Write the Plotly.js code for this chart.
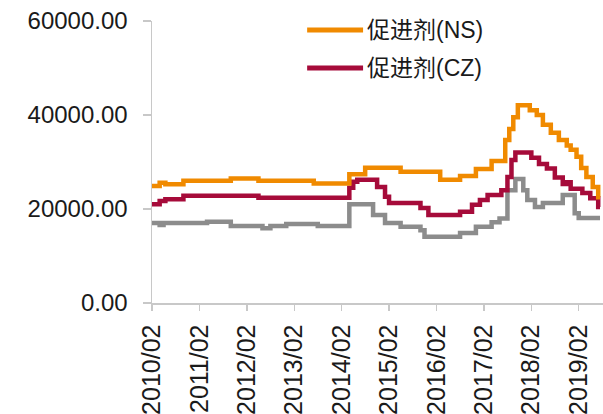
<!DOCTYPE html>
<html>
<head>
<meta charset="utf-8">
<script src="https://cdn.plot.ly/plotly-3.0.1.min.js"></script>
<style>html,body{margin:0;padding:0;background:#fff;}#chart{width:603px;height:414px;}</style>
</head>
<body>
<div id="chart"></div>
<script>
const seriesNames = ['促进剂(NS)', '促进剂(CZ)', ''];

const nsDates = ['2010-02-01','2010-04-01','2010-05-15','2010-10-01','2011-10-01','2012-05-01','2013-07-01','2014-04-01','2014-08-01','2015-05-01','2016-03-01','2016-08-01','2016-12-01','2017-04-01','2017-07-15','2017-08-15','2017-09-15','2017-10-20','2018-01-20','2018-03-15','2018-05-01','2018-07-01','2018-09-01','2018-11-01','2018-12-01','2019-01-15','2019-02-20','2019-04-01','2019-05-20','2019-07-01','2019-07-15'];
const nsValues = [24900,25600,25250,26000,26500,26000,25400,27400,28800,27900,26200,27000,28500,30200,34700,37000,39500,42100,41000,40000,37900,36200,34700,33500,32600,31100,28700,26800,24700,22500,22500];

const czDates = ['2010-02-01','2010-04-01','2010-05-15','2010-10-01','2012-05-01','2014-04-01','2014-05-01','2014-06-01','2014-11-01','2015-01-01','2015-02-01','2015-10-01','2015-12-01','2016-08-01','2016-11-01','2017-01-01','2017-03-01','2017-06-15','2017-08-01','2017-09-01','2017-10-01','2018-02-01','2018-04-01','2018-06-01','2018-08-01','2018-10-01','2018-11-01','2018-12-01','2019-03-01','2019-05-01','2019-07-01','2019-07-15'];
const czValues = [21000,21700,22100,22800,22400,24500,25800,26200,24700,22600,21300,20200,18700,19400,20900,21900,23000,24000,26800,30400,32000,30900,29600,28600,26700,25300,25700,24300,23400,22300,20400,20400];

const grayDates = ['2010-02-01','2010-04-01','2010-05-01','2011-04-01','2011-10-01','2012-06-01','2012-08-01','2012-12-01','2013-08-01','2014-04-01','2014-10-01','2015-01-01','2015-05-01','2015-10-01','2015-11-01','2016-08-01','2016-12-01','2017-04-01','2017-06-01','2017-08-01','2017-10-01','2017-12-01','2018-01-01','2018-03-01','2018-05-01','2018-10-01','2019-01-01','2019-02-01','2019-07-15'];
const grayValues = [17000,16600,17000,17300,16400,15900,16400,16800,16400,21000,18700,17000,16200,15500,14100,14900,16200,17200,18000,24000,26400,24000,21900,20400,21300,23000,19100,18100,18100];

const xTickVals = ['2010-02-01','2011-02-01','2012-02-01','2013-02-01','2014-02-01','2015-02-01','2016-02-01','2017-02-01','2018-02-01','2019-02-01'];
const xTickText = ['2010/02','2011/02','2012/02','2013/02','2014/02','2015/02','2016/02','2017/02','2018/02','2019/02'];
const yTickVals = [0, 20000, 40000, 60000];

const colors = ['#F08A00', '#A60B3A', '#8C8C8C'];
const fontFam = 'Liberation Sans, Arial, Noto Sans CJK SC, sans-serif';

const traces = [
  {x: grayDates, y: grayValues, name: seriesNames[2], showlegend: false},
  {x: czDates, y: czValues, name: seriesNames[1], showlegend: false},
  {x: nsDates, y: nsValues, name: seriesNames[0], showlegend: false}
].map((t, i) => Object.assign(t, {
  type: 'scatter', mode: 'lines',
  line: {color: colors[2 - i], width: 4.5, shape: 'hv'},
  hoverinfo: 'skip'
}));

const layout = {
  width: 603, height: 414,
  margin: {l: 152, r: 0, t: 21, b: 111, pad: 0},
  paper_bgcolor: '#ffffff', plot_bgcolor: '#ffffff',
  font: {family: fontFam, size: 23, color: '#1a1a1a'},
  showlegend: false,
  xaxis: {
    type: 'date', range: ['2010-02-01', '2019-08-07'],
    tickvals: xTickVals, ticktext: xTickText, tickangle: -90,
    ticks: 'outside', ticklen: 6, tickcolor: '#C8C8C8', tickwidth: 1.5,
    showline: true, linecolor: '#C8C8C8', linewidth: 1.5,
    showgrid: false, zeroline: false, ticklabelstandoff: 4,
    tickfont: {family: fontFam, size: 25, color: '#1a1a1a'}
  },
  yaxis: {
    range: [0, 60000], tickvals: yTickVals, tickformat: '.2f',
    ticks: 'outside', ticklen: 8, tickcolor: '#C8C8C8', tickwidth: 1.5,
    showline: true, linecolor: '#C8C8C8', linewidth: 1.5,
    showgrid: false, zeroline: false, ticklabelstandoff: 10,
    tickfont: {family: fontFam, size: 24, color: '#1a1a1a'}
  },
  shapes: [
    {type: 'line', xref: 'paper', yref: 'paper', x0: 0.344, x1: 0.468, y0: 0.968, y1: 0.968, line: {color: colors[0], width: 5}},
    {type: 'line', xref: 'paper', yref: 'paper', x0: 0.344, x1: 0.468, y0: 0.833, y1: 0.833, line: {color: colors[1], width: 5}}
  ],
  annotations: [
    {xref: 'paper', yref: 'paper', x: 0.472, y: 0.968, xanchor: 'left', yanchor: 'middle', text: seriesNames[0], showarrow: false, font: {family: fontFam, size: 23, color: '#1a1a1a'}},
    {xref: 'paper', yref: 'paper', x: 0.472, y: 0.833, xanchor: 'left', yanchor: 'middle', text: seriesNames[1], showarrow: false, font: {family: fontFam, size: 23, color: '#1a1a1a'}}
  ]
};

Plotly.newPlot('chart', traces, layout, {staticPlot: true, displayModeBar: false});
</script>
</body>
</html>
